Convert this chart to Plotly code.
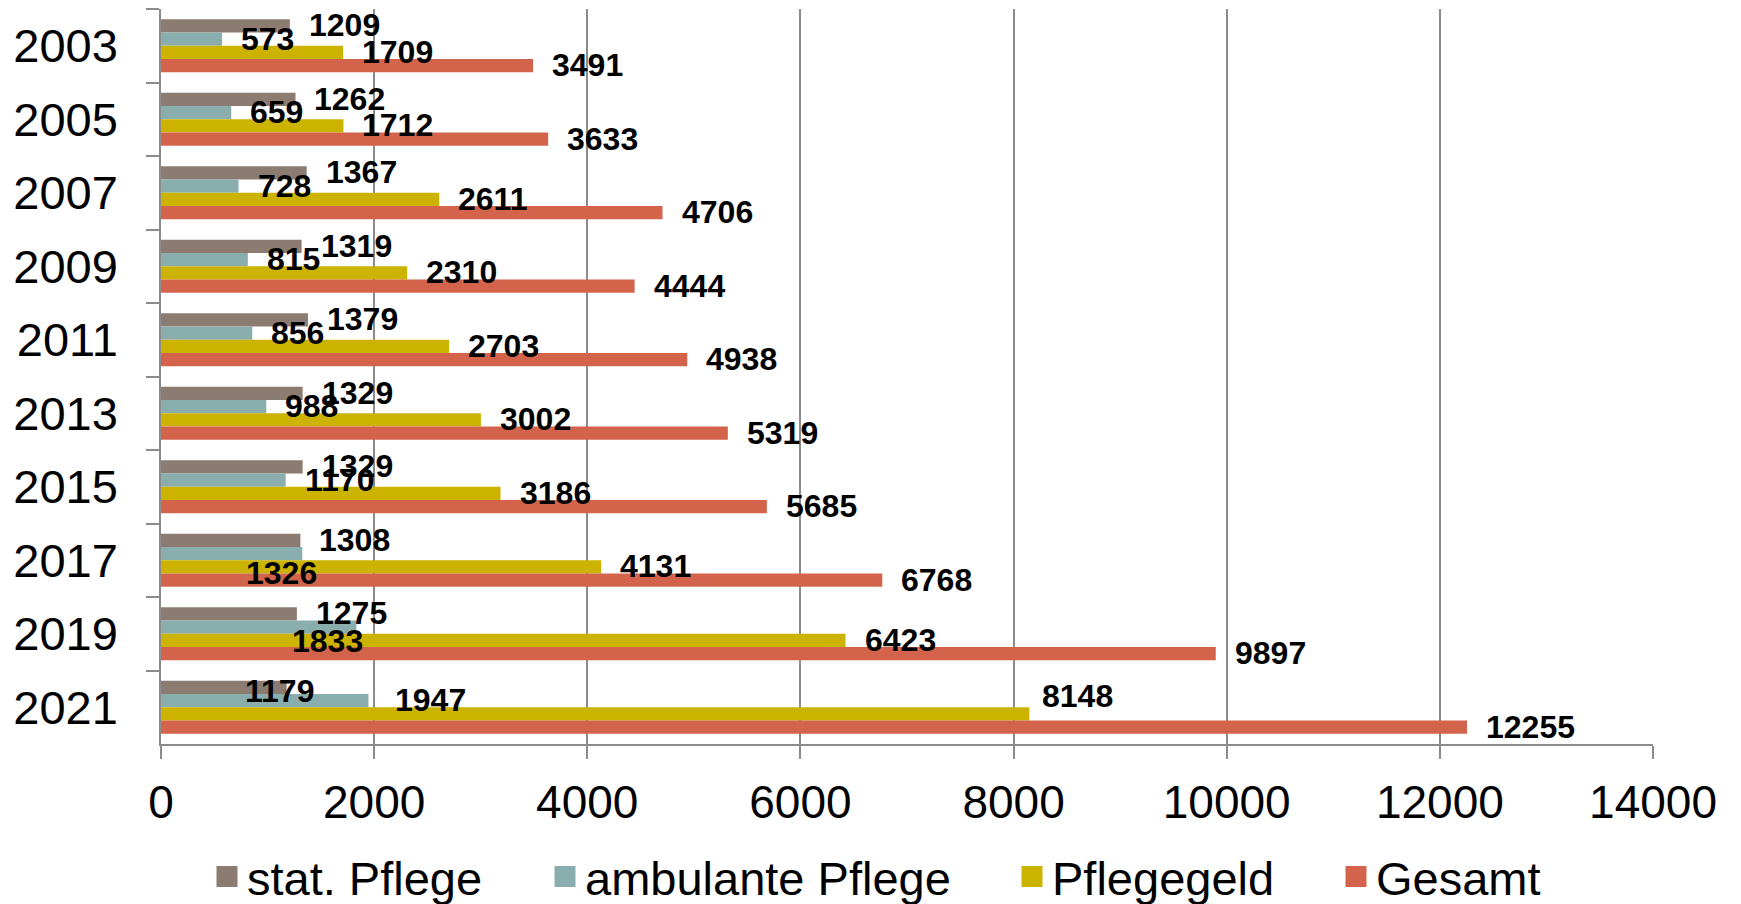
import plotly.graph_objects as go

years = ["2003", "2005", "2007", "2009", "2011", "2013", "2015", "2017", "2019", "2021"]
series_names = ["stat. Pflege", "ambulante Pflege", "Pflegegeld", "Gesamt"]
stat_pflege = [1209, 1262, 1367, 1319, 1379, 1329, 1329, 1308, 1275, 1179]
ambulante_pflege = [573, 659, 728, 815, 856, 988, 1170, 1326, 1833, 1947]
pflegegeld = [1709, 1712, 2611, 2310, 2703, 3002, 3186, 4131, 6423, 8148]
gesamt = [3491, 3633, 4706, 4444, 4938, 5319, 5685, 6768, 9897, 12255]
x_ticks = [0, 2000, 4000, 6000, 8000, 10000, 12000, 14000]

series_values = [stat_pflege, ambulante_pflege, pflegegeld, gesamt]
colors = ["#8B7B71", "#8AAEAE", "#CCB300", "#D3644B"]

# layout constants (pixels); the page body adds an 8px margin around the figure
W, H = 1725, 904
ML, MR, MT, MB = 153, 80, 1, 168
BARGAP = 0.28
FONT = "Liberation Sans, Arial, sans-serif"
GRID = "#8C8C8C"
plot_w = W - ML - MR
plot_h = H - MT - MB

# legend entry left edges and vertical centre (px in figure coordinates)
legend_left_px = [199, 537, 1004, 1328]
legend_y_px = 869

# manual label nudges (series index, year index) -> (dx from bar end, dy down) in px
label_dx_default, label_dy_default = 17, -0.5
label_nudges = {
    (1, 7): (-58, 19.5),
    (1, 8): (-66, 13.5),
    (0, 9): (-44, 3.5),
    (1, 9): (25, -0.5),
    (2, 9): (11, -17.5),
}

fig = go.Figure()
legend_ids = ["legend", "legend2", "legend3", "legend4"]
for k, (name, vals, col) in enumerate(zip(series_names, series_values, colors)):
    fig.add_trace(go.Bar(
        y=years, x=vals, name=name, orientation="h",
        marker=dict(color=col, line=dict(width=0)),
        showlegend=False,
    ))
    # legend proxy with larger square symbol
    fig.add_trace(go.Scatter(
        x=[None], y=[years[0]], mode="markers", name=name,
        marker=dict(symbol="square", size=16, color=col, line=dict(width=5, color=col)),
        showlegend=True, legend=legend_ids[k], hoverinfo="skip",
    ))

cat_h = plot_h / len(years)
bar_w = cat_h * (1 - BARGAP) / len(series_names)

annotations = []
for i, vals in enumerate(series_values):
    center_off = (i - (len(series_names) - 1) / 2) * bar_w
    for j, v in enumerate(vals):
        dx, dy = label_nudges.get((i, j), (label_dx_default, label_dy_default))
        annotations.append(dict(
            x=v, y=j, xref="x", yref="y",  # category index position
            text=str(v), showarrow=False,
            xanchor="left", yanchor="middle",
            xshift=dx, yshift=-(center_off + dy),
            font=dict(family=FONT, size=32, color="black", weight="bold"),
        ))

legend_common = dict(
    orientation="h", yanchor="middle", xanchor="left",
    xref="container", yref="container",
    y=1 - legend_y_px / H,
    font=dict(family=FONT, size=47, color="black"),
    bgcolor="rgba(0,0,0,0)", borderwidth=0,
)
legends = {}
for k, lid in enumerate(legend_ids):
    legends[lid] = dict(legend_common, x=legend_left_px[k] / W)

fig.update_layout(
    width=W, height=H,
    margin=dict(l=ML, r=MR, t=MT, b=MB, pad=0, autoexpand=False),
    paper_bgcolor="white", plot_bgcolor="white",
    barmode="group", bargap=BARGAP, bargroupgap=0,
    font=dict(family=FONT, color="black"),
    annotations=annotations,
    xaxis=dict(
        range=[0, 14000], tickvals=x_ticks, ticktext=[str(t) for t in x_ticks],
        showgrid=True, gridcolor=GRID, gridwidth=1.5,
        showline=True, linecolor=GRID, linewidth=1.5,
        ticks="outside", ticklen=13, tickcolor=GRID, tickwidth=1.5,
        zeroline=False, ticklabelstandoff=4,
        tickfont=dict(family=FONT, size=46, color="black"),
    ),
    yaxis=dict(
        type="category", categoryorder="array", categoryarray=years,
        range=[len(years) - 0.5, -0.5],
        showgrid=False, zeroline=False,
        showline=True, linecolor=GRID, linewidth=1.5,
        ticks="outside", ticklen=13, tickcolor=GRID, tickwidth=1.5,
        tickson="boundaries", ticklabelstandoff=32,
        tickfont=dict(family=FONT, size=47, color="black"),
    ),
    **legends,
)

fig.write_html("out.html")
